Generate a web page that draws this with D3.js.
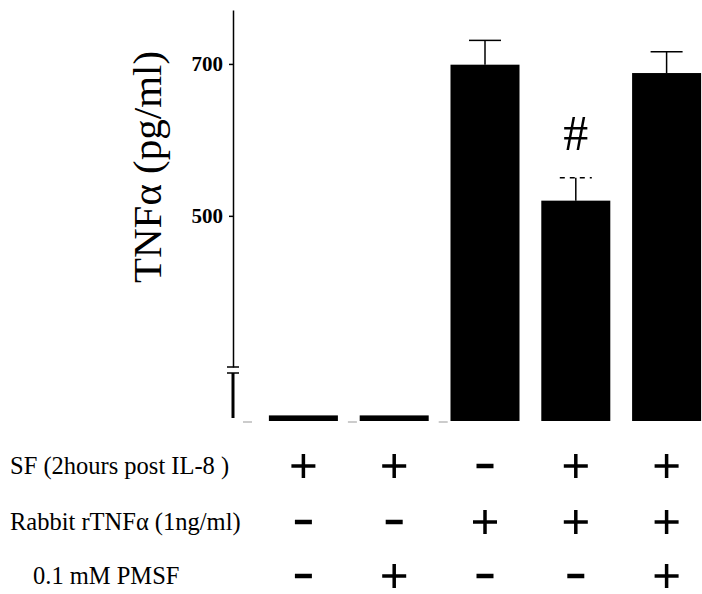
<!DOCTYPE html>
<html>
<head>
<meta charset="utf-8">
<script src="https://cdn.jsdelivr.net/npm/d3@7/dist/d3.min.js"></script>
<style>
  body { margin: 0; background: #fff; }
  svg { display: block; font-family: "Liberation Serif", "Times New Roman", serif; }
</style>
</head>
<body>
<svg id="chart" width="702" height="594"></svg>
<script>
// values (pg/ml)
const groups = [0, 1, 2, 3, 4];
const tnfMean = [7, 7, 699, 520, 688];
const tnfErr = [0, 0, 32, 30, 28];
const marks = ["", "", "", "#", ""];
const yTicks = [500, 700];

// treatment table
const rowLabels = ["SF (2hours post IL-8 )", "Rabbit rTNF\u03b1 (1ng/ml)", "0.1 mM PMSF"];
const sfRow = ["+", "+", "-", "+", "+"];
const rtnfRow = ["-", "-", "+", "+", "+"];
const pmsfRow = ["-", "+", "-", "-", "+"];

const svg = d3.select("#chart");
const axisX = 233;
const base = 421;

const x = d3.scaleBand()
    .domain(groups)
    .range([258, 712])
    .paddingInner(0.24)
    .paddingOuter(0.12);

// broken y axis: upper part and a short lower part near zero
const yTop = d3.scaleLinear().domain([301, 771]).range([367, 10]);
const yLow = d3.scaleLinear().domain([0, 60]).range([base, 373]);
const yPos = v => v >= 301 ? yTop(v) : yLow(v);

// bars
svg.selectAll(".bar")
    .data(tnfMean)
    .enter()
    .append("rect")
    .attr("class", "bar")
    .attr("x", (d, i) => x(groups[i]))
    .attr("width", x.bandwidth())
    .attr("y", d => yPos(d))
    .attr("height", d => base - yPos(d))
    .style("fill", "#000");

// error bars
const errData = groups
    .map(g => ({ g: g, v: tnfMean[g], e: tnfErr[g] }))
    .filter(d => d.e > 0);

const err = svg.selectAll(".err")
    .data(errData)
    .enter()
    .append("g")
    .attr("class", "err")
    .attr("transform", d => `translate(${x(d.g) + x.bandwidth() / 2},0)`);

err.append("line")
    .attr("y1", d => yPos(d.v)).attr("y2", d => yPos(d.v + d.e))
    .style("stroke", "#000").style("stroke-width", 1.5);
err.append("line")
    .attr("x1", -16).attr("x2", 16)
    .attr("y1", d => yPos(d.v + d.e)).attr("y2", d => yPos(d.v + d.e))
    .style("stroke", "#000").style("stroke-width", 1.5)
    .style("stroke-dasharray", d => d.g === 3 ? "5,5" : null);

// significance mark
svg.selectAll(".mark")
    .data(marks)
    .enter()
    .append("text")
    .attr("class", "mark")
    .attr("x", (d, i) => x(groups[i]) + x.bandwidth() / 2)
    .attr("y", (d, i) => yPos(tnfMean[i] + tnfErr[i]) - 28)
    .attr("text-anchor", "middle")
    .style("font-size", "50px")
    .text(d => d);

// faint baseline pieces between the bars
const gaps = [axisX].concat(groups.slice(0, 2).map(g => x(g) + x.bandwidth()));
svg.selectAll(".gap")
    .data(gaps)
    .enter()
    .append("line")
    .attr("x1", d => d + 10).attr("x2", d => d + 19)
    .attr("y1", base + 1).attr("y2", base + 1)
    .style("stroke", "#aaa").style("stroke-width", 1.2);

// upper y axis
const axis = svg.append("g")
    .attr("transform", `translate(${axisX},0)`)
    .call(d3.axisLeft(yTop).tickValues(yTicks).tickSize(4).tickSizeOuter(0).tickPadding(6));
axis.select(".domain").style("stroke-width", 1.5);
axis.selectAll(".tick line").style("stroke-width", 1.5);
axis.selectAll(".tick text")
    .style("font-family", "Liberation Serif, serif")
    .style("font-size", "21px")
    .style("font-weight", "bold")
    .style("fill", "#000");

// lower y axis segment and break marks
svg.append("line")
    .attr("x1", axisX).attr("x2", axisX)
    .attr("y1", yLow.range()[1]).attr("y2", base - 3)
    .style("stroke", "#000").style("stroke-width", 3);
svg.selectAll(".brk")
    .data([yTop.range()[0], yLow.range()[1]])
    .enter()
    .append("line")
    .attr("x1", axisX - 6).attr("x2", axisX + 6)
    .attr("y1", d => d).attr("y2", d => d)
    .style("stroke", "#000").style("stroke-width", 1.5);

// y label
svg.append("text")
    .attr("transform", "translate(161,167) rotate(-90)")
    .attr("text-anchor", "middle")
    .style("font-size", "41px")
    .text("TNF\u03b1 (pg/ml)");

// treatment table
const rowY = [466, 522, 576];
const rows = [sfRow, rtnfRow, pmsfRow];
const labelX = [10, 10, 33];

svg.selectAll(".rowlab")
    .data(rowLabels)
    .enter()
    .append("text")
    .attr("class", "rowlab")
    .attr("x", (d, i) => labelX[i])
    .attr("y", (d, i) => rowY[i] + 8)
    .style("font-size", "24.5px")
    .text(d => d);

rows.forEach(function(row, r) {
    const cell = svg.selectAll(".cell" + r)
        .data(row)
        .enter()
        .append("g")
        .attr("transform", (d, i) => `translate(${x(groups[i]) + x.bandwidth() / 2},${rowY[r]})`);
    cell.append("line")
        .attr("x1", d => d === "+" ? -12 : -8.5)
        .attr("x2", d => d === "+" ? 12 : 8.5)
        .style("stroke", "#000")
        .style("stroke-width", d => d === "+" ? 3.5 : 4.5);
    cell.filter(d => d === "+")
        .append("line")
        .attr("y1", -12).attr("y2", 12)
        .style("stroke", "#000")
        .style("stroke-width", 3.5);
});
</script>
</body>
</html>
